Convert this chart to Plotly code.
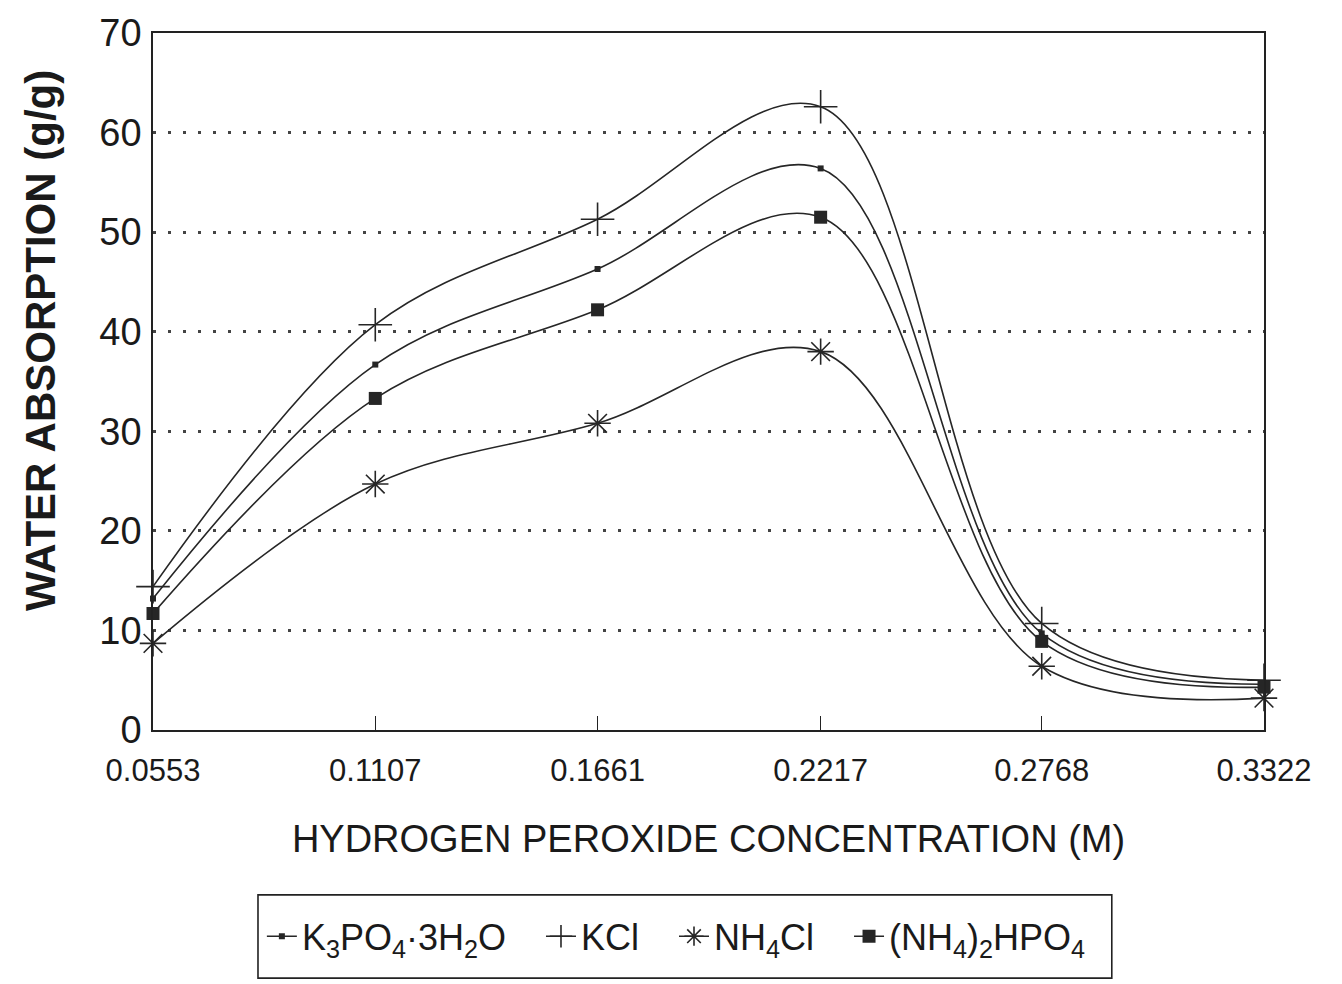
import plotly.graph_objects as go

concentration = [0.0553, 0.1107, 0.1661, 0.2217, 0.2768, 0.3322]
tick_labels = ["0.0553", "0.1107", "0.1661", "0.2217", "0.2768", "0.3322"]

k3po4 = [13.2, 36.7, 46.3, 56.4, 9.7, 4.6]
kcl = [14.4, 40.7, 51.3, 62.6, 10.7, 5.0]
nh4cl = [8.7, 24.7, 30.8, 38.0, 6.4, 3.2]
nh42hpo4 = [11.7, 33.3, 42.2, 51.5, 8.9, 4.3]

FONT = "Liberation Sans, Arial, Helvetica, sans-serif"
LINE = "#262626"
PAD = "\u00a0" * 3

series = [
    ("K<sub>3</sub>PO<sub>4</sub>·3H<sub>2</sub>O" + PAD, k3po4, dict(symbol="square", size=6, color=LINE)),
    ("KCl" + PAD, kcl, dict(symbol="cross-thin-open", size=24, color=LINE, line=dict(width=1.6, color=LINE))),
    ("NH<sub>4</sub>Cl" + PAD, nh4cl, dict(symbol="asterisk-open", size=22, color=LINE, line=dict(width=1.6, color=LINE))),
    ("(NH<sub>4</sub>)<sub>2</sub>HPO<sub>4</sub>", nh42hpo4, dict(symbol="square", size=13, color=LINE)),
]

fig = go.Figure()
for name, ys, marker in series:
    fig.add_trace(go.Scatter(
        x=concentration, y=ys, name=name, mode="lines+markers",
        line=dict(color=LINE, width=1.6, shape="spline", smoothing=1.0),
        marker=marker, cliponaxis=False,
    ))

fig.update_layout(
    width=1342, height=984,
    margin=dict(l=153, r=78, t=28, b=254),
    paper_bgcolor="white", plot_bgcolor="white",
    font=dict(family=FONT, size=31, color="#1a1a1a"),
    showlegend=True,
    legend=dict(
        orientation="h", x=0.098, y=-0.296, xanchor="left", yanchor="middle",
        borderwidth=0, font=dict(size=36, family=FONT),
        itemwidth=30, tracegroupgap=0, traceorder="normal", bgcolor="rgba(0,0,0,0)",
    ),
    shapes=[dict(
        type="rect", xref="paper", yref="paper",
        x0=0.0945, x1=0.863, y0=-0.2365, y1=-0.356,
        line=dict(color="#222", width=1.6), fillcolor="rgba(0,0,0,0)",
    )],
    annotations=[dict(
        text="<b>WATER ABSORPTION (g/g)</b>", xref="paper", yref="paper",
        x=-0.1017, y=0.558, xanchor="center", yanchor="middle", textangle=-90,
        showarrow=False, font=dict(size=42, family=FONT, color="#1a1a1a"),
    )],
)
fig.update_xaxes(
    range=[0.0553, 0.3322], tickmode="array", tickvals=concentration, ticktext=tick_labels,
    showline=True, linecolor="#222", linewidth=1.6, mirror=True,
    ticks="inside", ticklen=14, tickcolor="#222", showgrid=False, zeroline=False,
    tickfont=dict(size=31), ticklabelstandoff=12,
    title=dict(text="HYDROGEN PEROXIDE CONCENTRATION (M)", font=dict(size=38), standoff=38),
)
fig.update_yaxes(
    range=[0, 70], tickmode="array", tickvals=[0, 10, 20, 30, 40, 50, 60, 70],
    showline=True, linecolor="#222", linewidth=1.6, mirror=True,
    ticks="", showgrid=True, gridcolor="#444", griddash="3px,12px", gridwidth=2.5,
    zeroline=False, tickfont=dict(size=38), ticklabelstandoff=2,
)

fig.write_html("out.html")
